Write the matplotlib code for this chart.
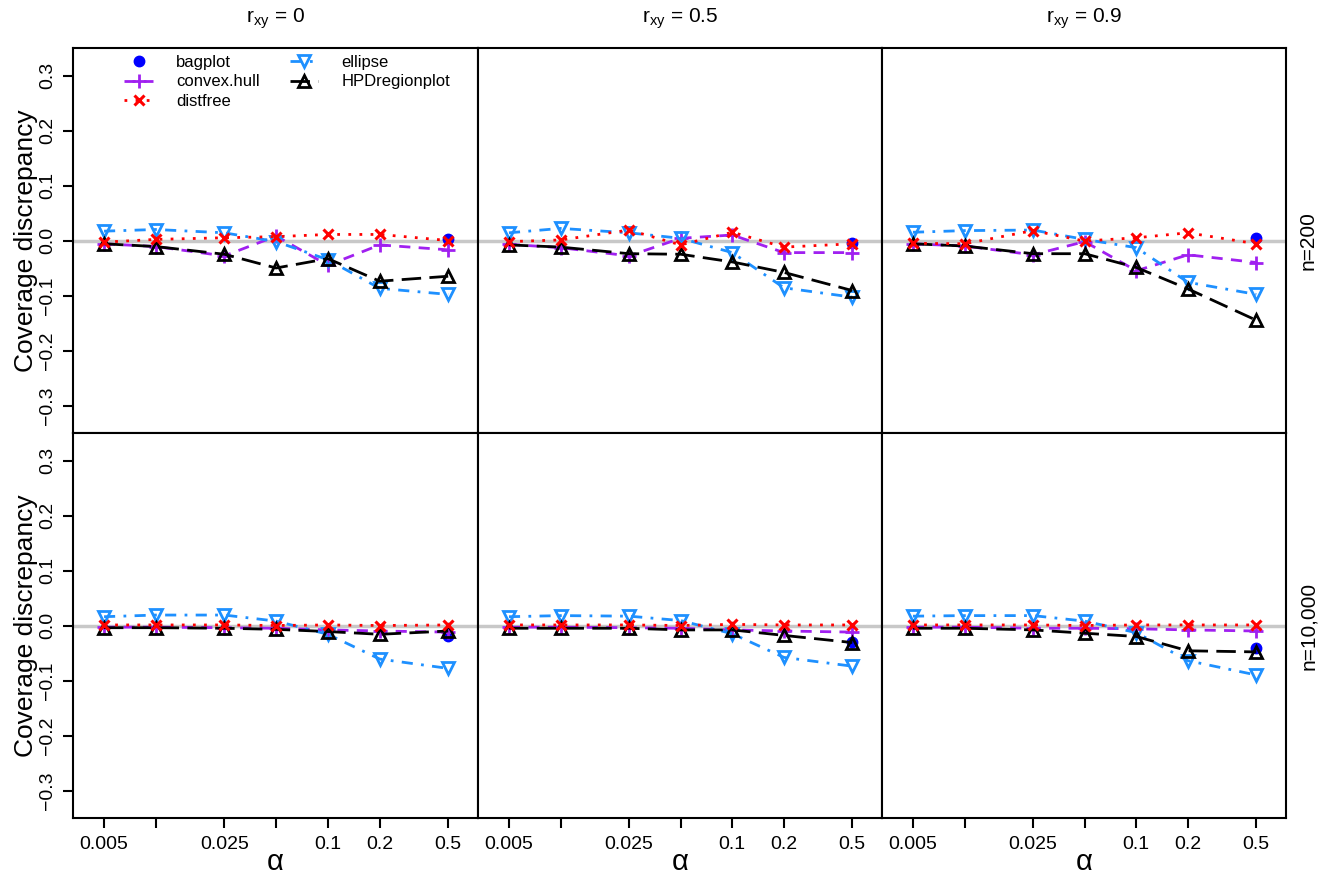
import numpy as np
import matplotlib
matplotlib.use("Agg")
import matplotlib.pyplot as plt
from matplotlib.lines import Line2D

plt.rcParams["font.family"] = ["Liberation Sans", "DejaVu Sans"]
plt.rcParams["mathtext.fontset"] = "custom"
plt.rcParams["mathtext.rm"] = "Liberation Sans"
plt.rcParams["mathtext.it"] = "Liberation Sans:italic"

# alpha levels (x axis, log scale)
alphas = [0.005, 0.01, 0.025, 0.05, 0.1, 0.2, 0.5]
alpha_labels = ["0.005", "", "0.025", "", "0.1", "0.2", "0.5"]

r_labels = ["0", "0.5", "0.9"]
n_labels = ["n=200", "n=10,000"]

# coverage discrepancy, rows = n, cols = r_xy
convex_hull = [
    [[-0.006, -0.011, -0.028, 0.008, -0.045, -0.008, -0.017],
     [-0.007, -0.013, -0.028, 0.004, 0.010, -0.022, -0.022],
     [-0.006, -0.010, -0.026, -0.002, -0.055, -0.026, -0.040]],
    [[-0.003, -0.003, -0.004, -0.005, -0.008, -0.010, -0.012],
     [-0.003, -0.003, -0.004, -0.005, -0.008, -0.010, -0.012],
     [-0.003, -0.003, -0.005, -0.005, -0.006, -0.008, -0.010]],
]
distfree = [
    [[-0.003, 0.002, 0.005, 0.007, 0.011, 0.011, 0.000],
     [-0.002, 0.001, 0.019, -0.008, 0.015, -0.012, -0.006],
     [-0.005, -0.006, 0.018, -0.001, 0.005, 0.014, -0.006]],
    [[0.001, 0.001, 0.001, 0.000, 0.001, 0.000, 0.001],
     [0.001, 0.001, 0.001, 0.000, 0.002, 0.001, 0.001],
     [0.001, 0.001, 0.001, 0.000, 0.001, 0.001, 0.001]],
]
ellipse = [
    [[0.017, 0.020, 0.014, -0.002, -0.035, -0.087, -0.098],
     [0.014, 0.022, 0.014, 0.004, -0.022, -0.086, -0.103],
     [0.015, 0.018, 0.019, 0.002, -0.013, -0.076, -0.098]],
    [[0.016, 0.019, 0.019, 0.008, -0.016, -0.061, -0.078],
     [0.016, 0.018, 0.017, 0.009, -0.015, -0.058, -0.074],
     [0.017, 0.018, 0.018, 0.008, -0.013, -0.064, -0.090]],
]
hpd = [
    [[-0.006, -0.011, -0.025, -0.050, -0.033, -0.074, -0.065],
     [-0.008, -0.012, -0.024, -0.025, -0.039, -0.058, -0.091],
     [-0.006, -0.010, -0.024, -0.024, -0.049, -0.088, -0.145]],
    [[-0.004, -0.004, -0.005, -0.007, -0.011, -0.016, -0.010],
     [-0.005, -0.005, -0.005, -0.008, -0.008, -0.018, -0.031],
     [-0.005, -0.005, -0.008, -0.014, -0.020, -0.046, -0.048]],
]
# bagplot only gives the 50% region
bagplot = [[0.002, -0.004, 0.004], [-0.019, -0.030, -0.041]]

W, H = 1324, 877
fig = plt.figure(figsize=(W / 100, H / 100), dpi=100)

# panel edges in pixels
col_x = [73, 478, 882, 1286]
row_y = [48, 433, 818]

blue = "#1E90FF"
purple = "#A020F0"

styles = {
    "convex": dict(color=purple, ls=(0, (4, 3)), lw=2, marker="+", ms=10, mew=2),
    "distfree": dict(color="red", ls=(0, (1, 3)), lw=2, marker="x", ms=7, mew=2.2),
    "ellipse": dict(color=blue, ls=(0, (4, 3, 1, 3)), lw=2, marker="v", ms=9,
                    mew=2, mfc="none"),
    "hpd": dict(color="black", ls=(0, (7, 3)), lw=2, marker="^", ms=9, mew=2,
                mfc="none"),
    "bag": dict(color="blue", ls="none", marker="o", ms=7.5),
}

for i in range(2):
    for j in range(3):
        x0, x1 = col_x[j], col_x[j + 1]
        y0, y1 = row_y[i], row_y[i + 1]
        ax = fig.add_axes([x0 / W, 1 - y1 / H, (x1 - x0) / W, (y1 - y0) / H])
        ax.set_xscale("log")
        ax.set_xlim(0.0033, 0.745)
        ax.set_ylim(-0.35, 0.35)
        ax.axhline(0, color="#c8c8c8", lw=2.5, zorder=1)

        ax.plot(alphas, convex_hull[i][j], zorder=3, **styles["convex"])
        ax.plot(alphas, distfree[i][j], zorder=4, **styles["distfree"])
        ax.plot(alphas, ellipse[i][j], zorder=3, **styles["ellipse"])
        ax.plot(alphas, hpd[i][j], zorder=3, **styles["hpd"])
        ax.plot([alphas[-1]], [bagplot[i][j]], zorder=2, **styles["bag"])

        for s in ax.spines.values():
            s.set_linewidth(1.5)

        ax.minorticks_off()
        if i == 1:
            ax.set_xticks(alphas)
            ax.set_xticklabels(alpha_labels, fontsize=14)
            ax.tick_params(axis="x", length=7, width=1.5, pad=6)
            fig.text((x0 + x1) / 2 / W, (H - 862) / H, "\u03b1",
                     ha="center", va="center", fontsize=21)
        else:
            ax.set_xticks([])
        if j == 0:
            ax.set_yticks([-0.3, -0.2, -0.1, 0.0, 0.1, 0.2, 0.3])
            ax.set_yticklabels(["\u22120.3", "\u22120.2", "\u22120.1", "0.0",
                                "0.1", "0.2", "0.3"], fontsize=14,
                               rotation=90, va="center")
            ax.tick_params(axis="y", length=7, width=1.5, pad=5)
            ax.set_ylabel("Coverage discrepancy", fontsize=19, labelpad=1)
        else:
            ax.set_yticks([])
        if i == 0:
            ax.set_title(r"$\mathregular{r_{xy}}$ = " + r_labels[j],
                         fontsize=15, pad=18)
        if j == 2:
            ax.text(1.055, 0.5, n_labels[i], transform=ax.transAxes,
                    rotation=90, va="center", ha="center", fontsize=15)

        if i == 0 and j == 0:
            handles = [Line2D([], [], **styles[k])
                       for k in ["bag", "convex", "distfree", "ellipse", "hpd"]]
            labels = ["bagplot", "convex.hull", "distfree", "ellipse",
                      "HPDregionplot"]
            ax.legend(handles, labels, ncol=2, loc="upper left",
                      bbox_to_anchor=(0.09, 1.02), frameon=False,
                      fontsize=12, handlelength=1.7, labelspacing=0.25,
                      columnspacing=1.8, handletextpad=1.4)

fig.savefig("out.png", dpi=100)
